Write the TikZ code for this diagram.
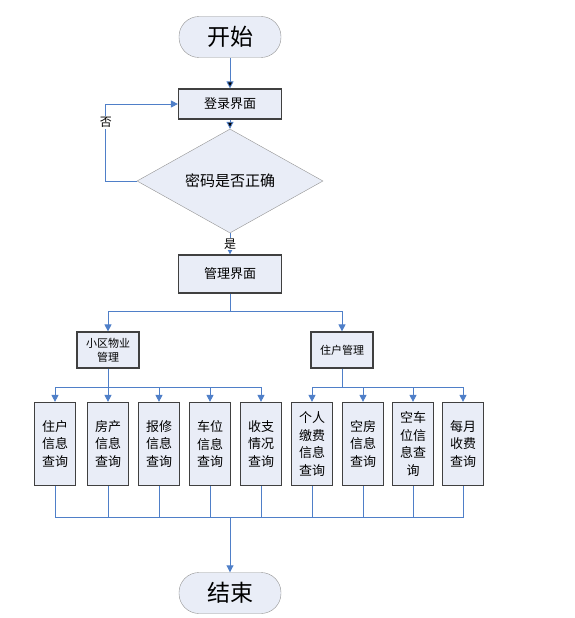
\documentclass[tikz,border=0pt]{standalone}
\usepackage{fontspec}
\setmainfont{Noto Sans CJK SC}
\usetikzlibrary{shapes.geometric,arrows.meta}

\definecolor{boxfill}{HTML}{E9EDF7}
\definecolor{flowline}{HTML}{4F7FC8}
\definecolor{boxedge}{HTML}{404040}

\begin{document}
\begin{tikzpicture}[x=1pt,y=-1pt,node distance=51pt,>={Triangle[length=7pt,width=7pt]},
  terminal/.style={draw=gray!85,fill=boxfill,rounded corners=20pt,minimum width=102pt,minimum height=41pt,font=\fontsize{23}{23}\selectfont},
  process/.style={draw=boxedge,line width=1.2pt,fill=boxfill,minimum width=103pt,minimum height=30pt,font=\fontsize{13}{13}\selectfont},
  decision/.style={diamond,draw=gray!85,fill=boxfill,minimum width=186pt,minimum height=81pt,inner sep=0pt,font=\fontsize{15}{15}\selectfont},
  module/.style={process,minimum width=62pt,minimum height=36pt,align=center,font=\fontsize{11}{14}\selectfont},
  query/.style={process,minimum width=41pt,minimum height=83pt,align=center,inner sep=1pt,font=\fontsize{13}{17.5}\selectfont},
  link/.style={draw=flowline,line width=0.9pt},
  tag/.style={fill=white,inner sep=1pt,font=\fontsize{12}{12}\selectfont}]
\useasboundingbox (0,0) rectangle (575,618);
\node[terminal] (start) at (230,37)                        {开始};
\node[process]  (login)  [below of=start, node distance=67pt] {登录界面};
\node[decision] (check)  [below of=login, node distance=77pt] {密码是否正确};
\node[process,minimum height=38pt] (manage) [below of=check, node distance=93pt] {管理界面};
\node[module]   (sub1) [below of=manage, node distance=76pt, xshift=-122pt] {小区物业\\管理};
\node[module]   (sub2) [below of=manage, node distance=76pt, xshift=112pt]  {住户管理};
\node[query]    (c1) [below of=sub1, node distance=94pt, xshift=-53pt] {住户\\信息\\查询};
\node[query]    (c2) [right of=c1, node distance=53pt] {房产\\信息\\查询};
\node[query]    (c3) [right of=c2] {报修\\信息\\查询};
\node[query]    (c4) [right of=c3] {车位\\信息\\查询};
\node[query]    (c5) [right of=c4] {收支\\情况\\查询};
\node[query]    (c6) [right of=c5] {个人\\缴费\\信息\\查询};
\node[query]    (c7) [right of=c6] {空房\\信息\\查询};
\node[query]    (c8) [right of=c7, node distance=50pt] {空车\\位信\\息查\\询};
\node[query]    (c9) [right of=c8, node distance=50pt] {每月\\收费\\查询};
\node[terminal] (end) [below of=manage, node distance=319pt] {结束};
\coordinate (split) at ([yshift=-18pt]manage.south);
\coordinate (bus1)  at ([yshift=-19pt]sub1.south);
\coordinate (bus2)  at ([yshift=-19pt]sub2.south);
\coordinate (join)  at (230,517);
\path[link,->] (start) edge (login)
               (login) edge (check);
\draw[link,->] (check) -- node[tag] {是} (manage);
\draw[link,->] (check.west) -- ++(-31,0) |- node[tag,pos=0.38] {否} (login.west);
\draw[link] (manage) -- (split);
\draw[link,->] (split) -| (sub1);
\draw[link,->] (split) -| (sub2);
\draw[link] (sub1) -- (bus1);
\draw[link] (sub2) -- (bus2);
\foreach \i in {1,...,5} \draw[link,->] (bus1) -| (c\i);
\foreach \i in {6,...,9} \draw[link,->] (bus2) -| (c\i);
\foreach \i in {1,...,9} \draw[link] (c\i) |- (join);
\draw[link,->] (join) -- (end);
\end{tikzpicture}
\end{document}
